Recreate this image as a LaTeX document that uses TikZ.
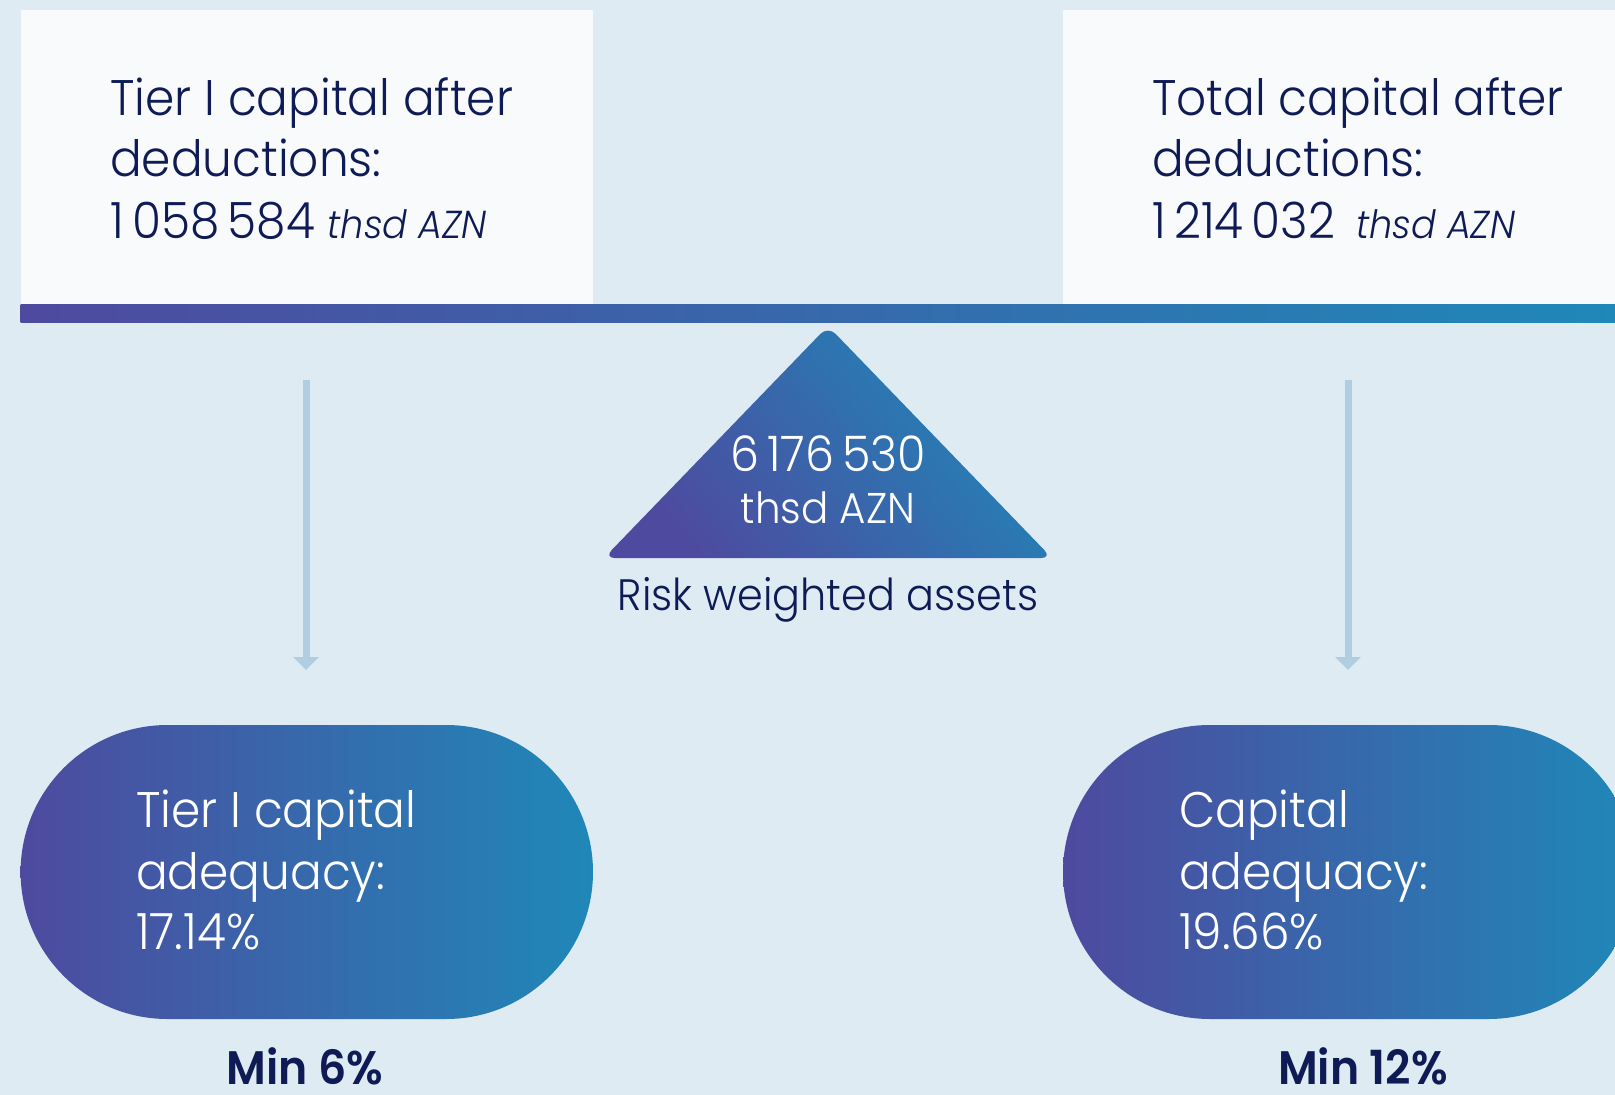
\documentclass[tikz,border=0pt]{standalone}
\usepackage{fontspec}
\setmainfont{Poppins}[UprightFont=* Light, ItalicFont=* Light Italic, BoldFont=* SemiBold, FakeStretch=0.94]
\usetikzlibrary{arrows.meta,shapes.misc}
\definecolor{bgc}{HTML}{DFEBF3}
\definecolor{boxc}{HTML}{F8FAFC}
\definecolor{navy}{HTML}{0E1B55}
\definecolor{arrc}{HTML}{AFCEE1}
\definecolor{purp}{HTML}{4E4A9F}
\definecolor{tealc}{HTML}{1F88B8}
\tikzset{
  whitebox/.style={fill=boxc, inner sep=0, anchor=north west, minimum width=572.4pt, minimum height=294pt},
  pill/.style={rounded rectangle, inner sep=0, minimum width=572.4pt, minimum height=294pt, left color=purp, right color=tealc, draw=none},
  dtxt/.style={text=navy, inner sep=0, anchor=base west, font=\fontsize{50}{60}\selectfont},
  wtxt/.style={text=white, inner sep=0, anchor=base west, font=\fontsize{50}{60}\selectfont},
  ctxt/.style={inner sep=0, anchor=base},
  minlbl/.style={text=navy, inner sep=0, anchor=base, font=\fontsize{47}{55}\bfseries},
  downarrow/.style={draw=arrc, line width=7pt, -{Triangle[width=25pt,length=13pt]}},
}
\begin{document}
\begin{tikzpicture}[x=1pt,y=-1pt]
\useasboundingbox (0,0) rectangle (1615,1095);
\clip (0,0) rectangle (1615,1095);
\fill[bgc] (0,0) rectangle (1615,1095);
% top boxes
\node[whitebox] (lbox) at (20.6,10) {};
\node[whitebox] (rbox) at (1063,10) {};
% gradient bar
\shade[left color=purp, right color=tealc] (20.6,304) rectangle (1615,322);
% left box text
\node[dtxt] (l1) at (110,115) {Tier I capital after};
\node[dtxt] (l2) at (110,176) {deductions:};
\node[dtxt] (l3) at (110,238) {1\,058\,584 {\fontsize{39}{45}\selectfont\itshape thsd AZN}};
% right box text
\node[dtxt] (r1) at (1152,115) {Total capital after};
\node[dtxt] (r2) at (1152,176) {deductions:};
\node[dtxt] (r3) at (1152,238) {1\,214\,032\, {\fontsize{39}{45}\selectfont\itshape thsd AZN}};
% triangle
\shade[top color=purp, bottom color=tealc, shading angle=130, rounded corners=11pt]
  (604,558) -- (828,326) -- (1052,558) -- cycle;
\node[ctxt, text=white, font=\fontsize{49}{55}\selectfont] (rwa1) at (828,471) {6\,176\,530};
\node[ctxt, text=white, font=\fontsize{43}{50}\selectfont] (rwa2) at (828,523) {thsd AZN};
\node[ctxt, text=navy, font=\fontsize{44}{50}\selectfont] (rwa3) at (828,610) {Risk weighted assets};
% arrows
\coordinate (a1s) at (306,380);
\coordinate (a1e) at (306,670);
\coordinate (a2s) at (1348,380);
\coordinate (a2e) at (1348,670);
\draw[downarrow] (a1s) -- (a1e);
\draw[downarrow] (a2s) -- (a2e);
% pills
\node[pill] (lpill) at (306.8,872) {};
\node[pill] (rpill) at (1349.2,872) {};
\node[wtxt] (p1) at (136,827) {Tier I capital};
\node[wtxt] (p2) at (136,889) {adequacy:};
\node[wtxt] (p3) at (136,949) {17.14\%};
\node[wtxt] (q1) at (1179,827) {Capital};
\node[wtxt] (q2) at (1179,889) {adequacy:};
\node[wtxt] (q3) at (1179,949) {19.66\%};
% minimum labels
\node[minlbl] (m1) at (305,1084) {Min 6\%};
\node[minlbl] (m2) at (1363,1084) {Min 12\%};
\end{tikzpicture}
\end{document}
